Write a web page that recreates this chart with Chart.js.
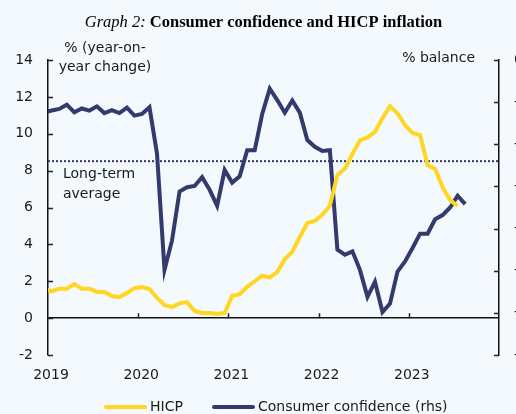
<!DOCTYPE html>
<html>
<head>
<meta charset="utf-8">
<script src="https://cdn.jsdelivr.net/npm/chart.js@4.4.1/dist/chart.umd.min.js"></script>
<style>
  html, body { margin: 0; padding: 0; background: #f4f9fd; }
  #wrap { width: 516px; height: 414px; }
</style>
</head>
<body>
<div id="wrap"><canvas id="graph2" width="516" height="414"></canvas></div>
<script>
// monthly observations (Dec 2018 is only there so the line enters from the axis)
var months = [
  '2018-12',
  '2019-01','2019-02','2019-03','2019-04','2019-05','2019-06','2019-07','2019-08','2019-09','2019-10','2019-11','2019-12',
  '2020-01','2020-02','2020-03','2020-04','2020-05','2020-06','2020-07','2020-08','2020-09','2020-10','2020-11','2020-12',
  '2021-01','2021-02','2021-03','2021-04','2021-05','2021-06','2021-07','2021-08','2021-09','2021-10','2021-11','2021-12',
  '2022-01','2022-02','2022-03','2022-04','2022-05','2022-06','2022-07','2022-08','2022-09','2022-10','2022-11','2022-12',
  '2023-01','2023-02','2023-03','2023-04','2023-05','2023-06','2023-07','2023-08'
];

// HICP, % year-on-year (left axis)
var hicp = [
  1.6,
  1.45, 1.6, 1.6, 1.85, 1.6, 1.6, 1.42, 1.42, 1.2, 1.14, 1.36, 1.63,
  1.68, 1.58, 1.1, 0.71, 0.6, 0.8, 0.87, 0.39, 0.28, 0.28, 0.22, 0.28,
  1.2, 1.3, 1.7, 2.0, 2.3, 2.2, 2.5, 3.2, 3.6, 4.4, 5.16, 5.27,
  5.6, 6.1, 7.76, 8.1, 8.9, 9.66, 9.8, 10.1, 10.85, 11.5, 11.1, 10.47,
  10.04, 9.93, 8.3, 8.09, 7.1, 6.4, 6.08
];

// consumer confidence, % balance (right axis)
var confidence = [
  -6.2,
  -6.0, -5.8, -5.3, -6.2, -5.75, -6.0, -5.5, -6.3, -5.95, -6.3, -5.65, -6.6,
  -6.4, -5.6, -11.1, -24.9, -21.4, -15.6, -15.1, -14.95, -13.9, -15.4, -17.3, -13.05,
  -14.55, -13.8, -10.7, -10.7, -6.4, -3.4, -4.75, -6.25, -4.8, -6.25, -9.5, -10.3,
  -10.8, -10.7, -22.5, -23.1, -22.7, -24.9, -28.1, -26.3, -29.9, -28.9, -25.1, -23.9,
  -22.3, -20.6, -20.6, -18.9, -18.4, -17.5, -16.1, -17.1
];

var longTermAverage = -12;
var yearTicks = [2019, 2020, 2021, 2022, 2023];
var firstYear = 2019, lastYear = 2024;

var HICP_COLOR = '#ffd621';
var CONF_COLOR = '#323a6e';
var TEXT_COLOR = '#1a1a1a';
var BG = '#f4f9fd';
var SANS = '"DejaVu Sans", sans-serif';

// month label -> position on the x axis (months since Jan 2019, mid-month)
function monthPos(label) {
  var p = label.split('-');
  return (parseInt(p[0]) - firstYear) * 12 + (parseInt(p[1]) - 1) + 0.5;
}
function toPoints(values) {
  return values.map(function (v, i) { return { x: monthPos(months[i]), y: v }; });
}

var extras = {
  id: 'extras',
  beforeDraw: function (chart) {
    var ctx = chart.ctx;
    ctx.save();
    ctx.fillStyle = BG;
    ctx.fillRect(0, 0, chart.width, chart.height);
    ctx.restore();
  },
  afterDraw: function (chart) {
    var ctx = chart.ctx, a = chart.chartArea;
    var xs = chart.scales.x, yl = chart.scales.y, yr = chart.scales.y1;
    ctx.save();

    // inward tick marks
    ctx.strokeStyle = '#222';
    ctx.lineWidth = 1.5;
    ctx.beginPath();
    yl.ticks.forEach(function (t) {
      var py = Math.round(yl.getPixelForValue(t.value)) + 0.5;
      ctx.moveTo(a.left, py); ctx.lineTo(a.left + 5, py);
    });
    yr.ticks.forEach(function (t) {
      var py = Math.round(yr.getPixelForValue(t.value)) + 0.5;
      ctx.moveTo(a.right, py); ctx.lineTo(a.right - 5, py);
    });
    var zero = yl.getPixelForValue(0);
    yearTicks.forEach(function (yr0) {
      if (yr0 === firstYear) return;
      var px = Math.round(xs.getPixelForValue((yr0 - firstYear) * 12)) + 0.5;
      ctx.moveTo(px, zero); ctx.lineTo(px, zero - 5);
    });
    ctx.stroke();

    // title
    ctx.fillStyle = '#000';
    ctx.textBaseline = 'alphabetic';
    ctx.textAlign = 'left';
    var t1 = 'Graph 2: ', t2 = 'Consumer confidence and HICP inflation';
    ctx.font = 'italic 16.5px "Liberation Serif", serif';
    var w1 = ctx.measureText(t1).width;
    ctx.font = 'bold 16.5px "Liberation Serif", serif';
    var w2 = ctx.measureText(t2).width;
    var tx = 263.5 - (w1 + w2) / 2;
    ctx.font = 'italic 16.5px "Liberation Serif", serif';
    ctx.fillText(t1, tx, 26.5);
    ctx.font = 'bold 16.5px "Liberation Serif", serif';
    ctx.fillText(t2, tx + w1, 26.5);

    // axis units
    ctx.fillStyle = TEXT_COLOR;
    ctx.font = '14px ' + SANS;
    ctx.textAlign = 'center';
    ctx.fillText('% (year-on-', 105, 52);
    ctx.fillText('year change)', 105, 71);
    ctx.textAlign = 'right';
    ctx.fillText('% balance', 475, 62);

    // long-term average note
    ctx.textAlign = 'left';
    ctx.fillText('Long-term', 63, 178);
    ctx.fillText('average', 63, 198);

    // legend
    var ly = 407;
    ctx.lineCap = 'round';
    ctx.lineWidth = 4;
    ctx.strokeStyle = HICP_COLOR;
    ctx.beginPath(); ctx.moveTo(106, ly); ctx.lineTo(145, ly); ctx.stroke();
    ctx.strokeStyle = CONF_COLOR;
    ctx.beginPath(); ctx.moveTo(214, ly); ctx.lineTo(253, ly); ctx.stroke();
    ctx.textBaseline = 'middle';
    ctx.fillStyle = TEXT_COLOR;
    ctx.fillText('HICP', 150, ly);
    ctx.fillText('Consumer confidence (rhs)', 258, ly);

    ctx.restore();
  }
};

var ctx = document.getElementById('graph2').getContext('2d');
var chart = new Chart(ctx, {
  type: 'line',
  data: {
    datasets: [
      {
        label: 'HICP',
        data: toPoints(hicp),
        yAxisID: 'y',
        borderColor: HICP_COLOR,
        borderWidth: 4,
        pointRadius: 0,
        tension: 0,
        clip: 0
      },
      {
        label: 'Consumer confidence (rhs)',
        data: toPoints(confidence),
        yAxisID: 'y1',
        borderColor: CONF_COLOR,
        borderWidth: 4,
        pointRadius: 0,
        tension: 0,
        clip: 0
      },
      {
        label: 'Long-term average',
        data: [{ x: 0, y: longTermAverage }, { x: (lastYear - firstYear) * 12, y: longTermAverage }],
        yAxisID: 'y1',
        borderColor: CONF_COLOR,
        borderWidth: 2,
        borderDash: [2, 2],
        pointRadius: 0,
        clip: 0
      }
    ]
  },
  options: {
    responsive: false,
    animation: false,
    devicePixelRatio: 1,
    layout: { padding: { top: 60, bottom: 29, left: 0, right: 0 } },
    plugins: {
      legend: { display: false },
      title: { display: false },
      tooltip: { enabled: false }
    },
    scales: {
      x: {
        type: 'linear',
        position: 'bottom',
        min: 0,
        max: (lastYear - firstYear) * 12,
        grid: { display: false, drawTicks: false },
        border: { display: false },
        afterBuildTicks: function (s) {
          s.ticks = yearTicks.map(function (yr0) { return { value: (yr0 - firstYear) * 12 }; });
        },
        ticks: {
          autoSkip: false,
          maxRotation: 0,
          padding: 12,
          labelOffset: 3,
          color: TEXT_COLOR,
          font: { family: SANS, size: 14 },
          callback: function (v) { return String(firstYear + v / 12); }
        },
        afterFit: function (s) { s.height = 30; }
      },
      y: {
        position: 'left',
        min: -2,
        max: 14,
        ticks: {
          stepSize: 2,
          padding: 15,
          color: TEXT_COLOR,
          font: { family: SANS, size: 14 }
        },
        grid: {
          drawTicks: false,
          lineWidth: 1.5,
          color: function (c) { return c.tick && c.tick.value === 0 ? '#111' : 'rgba(0,0,0,0)'; }
        },
        border: { display: true, color: '#111', width: 1.5 },
        afterFit: function (s) { s.width = 48; }
      },
      y1: {
        position: 'right',
        min: -35,
        max: 0,
        ticks: {
          stepSize: 5,
          padding: 15,
          color: TEXT_COLOR,
          font: { family: SANS, size: 14 }
        },
        grid: { drawOnChartArea: false, drawTicks: false },
        border: { display: true, color: '#111', width: 1.5 },
        afterFit: function (s) { s.width = 17; }
      }
    }
  },
  plugins: [extras]
});
</script>
</body>
</html>
